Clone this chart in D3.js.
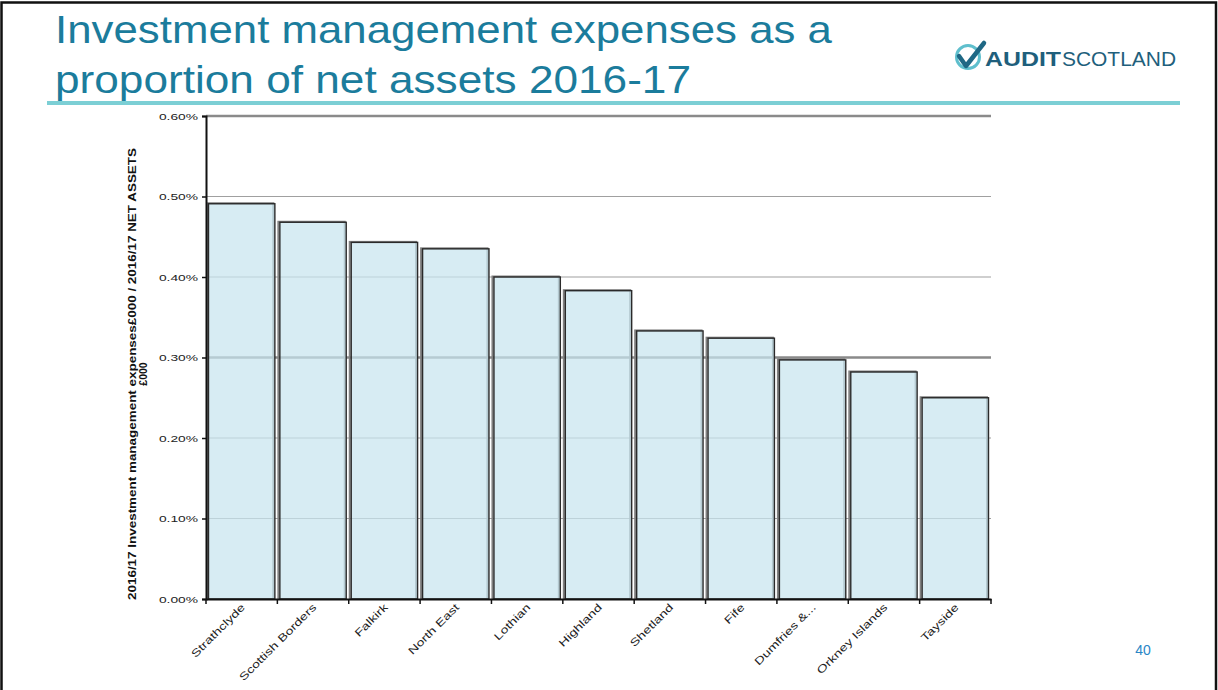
<!DOCTYPE html>
<html>
<head>
<meta charset="utf-8">
<script src="https://cdn.jsdelivr.net/npm/d3@7"></script>
<style>
  html, body { margin: 0; padding: 0; background: #fff; }
  svg { display: block; font-family: "Liberation Sans", Arial, sans-serif; }
</style>
</head>
<body>
<svg id="chart" width="1218" height="690"></svg>
<script>
const categories = ["Strathclyde", "Scottish Borders", "Falkirk", "North East", "Lothian", "Highland",
  "Shetland", "Fife", "Dumfries &...", "Orkney Islands", "Tayside"];
const values = [0.491, 0.468, 0.443, 0.435, 0.400, 0.383, 0.333, 0.324, 0.297, 0.282, 0.250];
const yTicks = [0, 0.1, 0.2, 0.3, 0.4, 0.5, 0.6];
const yTickLabels = ["0.00%", "0.10%", "0.20%", "0.30%", "0.40%", "0.50%", "0.60%"];
const titleLines = ["Investment management expenses as a", "proportion of net assets 2016-17"];
const yTitleLines = ["2016/17 Investment management expenses£000 / 2016/17 NET ASSETS", "£000"];

const svg = d3.select("#chart");

// slide frame
svg.append("path").attr("d", "M1.5,690 V2.5 H1216 V690")
  .attr("fill", "none").attr("stroke", "#111").attr("stroke-width", 2.5);

// title
const titleLen = [777, 636];
titleLines.forEach((t, i) => {
  svg.append("text").attr("x", 55).attr("y", 43 + i * 50)
    .attr("font-size", 39).attr("fill", "#1b7c9c")
    .attr("textLength", titleLen[i]).attr("lengthAdjust", "spacingAndGlyphs")
    .text(t);
});
svg.append("line").attr("x1", 47).attr("x2", 1180).attr("y1", 103).attr("y2", 103)
  .attr("stroke", "#7ccfd5").attr("stroke-width", 4);

// logo
const logo = svg.append("g");
logo.append("circle").attr("cx", 968).attr("cy", 57).attr("r", 11.5)
  .attr("fill", "none").attr("stroke", "#5fbfcd").attr("stroke-width", 3);
logo.append("path").attr("d", "M959,56 L966,66 L984,43")
  .attr("fill", "none").attr("stroke", "#1f6885").attr("stroke-width", 4.5)
  .attr("stroke-linecap", "round").attr("stroke-linejoin", "round");
logo.append("text").attr("x", 985).attr("y", 66).attr("font-size", 19.5).attr("font-weight", "bold")
  .attr("fill", "#1f5f7c").attr("textLength", 76).attr("lengthAdjust", "spacingAndGlyphs").text("AUDIT");
logo.append("text").attr("x", 1062).attr("y", 66).attr("font-size", 19.5)
  .attr("fill", "#1f5f7c").attr("textLength", 114).attr("lengthAdjust", "spacingAndGlyphs").text("SCOTLAND");

// page number
svg.append("text").attr("x", 1143).attr("y", 655).attr("text-anchor", "middle")
  .attr("font-size", 14).attr("fill", "#2a86c6").text("40");

// scales
const x = d3.scaleBand().domain(categories).range([206, 991]).paddingInner(0.07).paddingOuter(0.035);
const y = d3.scaleLinear().domain([0, 0.6]).range([599, 116]);

// gridlines
const strong = d => Math.abs(d - 0.6) < 1e-9 || Math.abs(d - 0.3) < 1e-9;
svg.append("g").selectAll("line").data(yTicks.slice(1)).join("line")
  .attr("x1", 206).attr("x2", 991)
  .attr("y1", d => y(d)).attr("y2", d => y(d))
  .attr("stroke", d => strong(d) ? "#8a8a8a" : "#a0a0a0")
  .attr("stroke-width", d => strong(d) ? 2.5 : 1.2);

// bars (shadow + bar)
const bars = svg.append("g");
bars.selectAll("rect.shadow").data(values).join("rect").attr("class", "shadow")
  .attr("x", (d, i) => x(categories[i]) - 1.5)
  .attr("y", d => y(d) - 0.5)
  .attr("width", x.bandwidth())
  .attr("height", d => y(0) - y(d) + 0.5)
  .attr("fill", "none").attr("stroke", "#808080").attr("stroke-width", 2);
bars.selectAll("rect.bar").data(values).join("rect").attr("class", "bar")
  .attr("x", (d, i) => x(categories[i]))
  .attr("y", d => y(d))
  .attr("width", x.bandwidth())
  .attr("height", d => y(0) - y(d))
  .attr("fill", "rgb(200,228,238)").attr("fill-opacity", 0.72)
  .attr("stroke", "#2a2a2a").attr("stroke-width", 1.4);

// y axis
const yAxis = svg.append("g").attr("transform", "translate(206,0)")
  .call(d3.axisLeft(y).tickValues(yTicks).tickFormat((d, i) => yTickLabels[i]).tickSize(4).tickPadding(4));
yAxis.select(".domain").attr("stroke", "#111").attr("stroke-width", 2);
yAxis.selectAll(".tick line").attr("stroke", "#111").attr("stroke-width", 1.5);
yAxis.selectAll(".tick text").attr("font-size", 9.5).attr("fill", "#222")
  .attr("font-family", "'Liberation Sans', Arial, sans-serif")
  .each(function () {
    const L = this.getComputedTextLength();
    d3.select(this).attr("textLength", L * 1.45).attr("lengthAdjust", "spacingAndGlyphs");
  });

// x axis
const xAxis = svg.append("g").attr("transform", "translate(0,599)")
  .call(d3.axisBottom(x).tickSize(0).tickFormat(""));
xAxis.select(".domain").attr("stroke", "#111").attr("stroke-width", 2.2);
// boundary ticks
const bounds = categories.map(c => x(c) - x.step() * x.paddingInner() / 2);
bounds.push(991);
svg.append("g").selectAll("line").data(bounds).join("line")
  .attr("x1", d => d).attr("x2", d => d).attr("y1", 599).attr("y2", 604)
  .attr("stroke", "#111").attr("stroke-width", 1.5);
// category labels
svg.append("g").selectAll("text").data(categories).join("text")
  .attr("transform", c => `translate(${x(c) + x.bandwidth() / 2 + 4},${608}) rotate(-45)`)
  .attr("text-anchor", "end").attr("font-size", 10.5).attr("fill", "#222")
  .text(c => c)
  .each(function () {
    const L = this.getComputedTextLength();
    d3.select(this).attr("textLength", L * 1.35).attr("lengthAdjust", "spacingAndGlyphs");
  });

// y title
const yt = svg.append("g").attr("transform", "translate(0,374)");
yTitleLines.forEach((t, i) => {
  const el = yt.append("text").attr("transform", `translate(${136 + i * 11},0) rotate(-90)`)
    .attr("text-anchor", "middle").attr("font-size", 10.5).attr("font-weight", "bold").attr("fill", "#111")
    .text(t);
  if (i === 0) el.attr("textLength", 452).attr("lengthAdjust", "spacingAndGlyphs");
});
</script>
</body>
</html>
